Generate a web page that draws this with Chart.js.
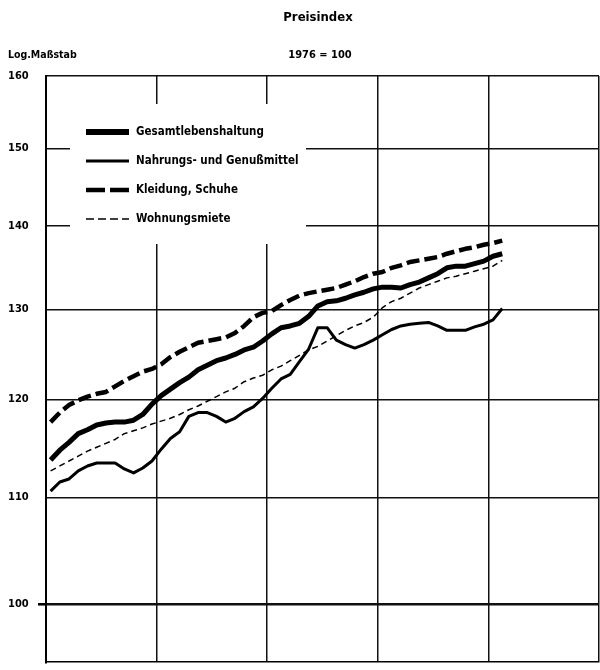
<!DOCTYPE html>
<html lang="de">
<head>
<meta charset="utf-8">
<title>Preisindex</title>
<script src="https://cdn.jsdelivr.net/npm/chart.js@4.4.1/dist/chart.umd.min.js"></script>
<style>
  html, body { margin: 0; padding: 0; background: #fff; }
  canvas { display: block; }
</style>
</head>
<body>
<canvas id="priceChart" width="600" height="670"></canvas>
<script>
// Monatswerte, 1976 = 100
const years = [1980, 1981, 1982, 1983, 1984];
const monthNames = ['Jan', 'Feb', 'Mär', 'Apr', 'Mai', 'Jun', 'Jul', 'Aug', 'Sep', 'Okt', 'Nov', 'Dez'];
const yTicks = [100, 110, 120, 130, 140, 150, 160];

const seriesNames = ['Gesamtlebenshaltung', 'Nahrungs- und Genußmittel', 'Kleidung, Schuhe', 'Wohnungsmiete'];

const gesamt = [113.7, 114.7, 115.5, 116.4, 116.8, 117.3, 117.5, 117.6, 117.6, 117.8, 118.4, 119.5,
    120.4, 121.1, 121.8, 122.4, 123.2, 123.7, 124.2, 124.5, 124.9, 125.4, 125.7, 126.4,
    127.2, 127.9, 128.1, 128.4, 129.2, 130.4, 130.9, 131.0, 131.3, 131.7, 132.0, 132.4,
    132.6, 132.6, 132.5, 132.9, 133.2, 133.7, 134.2, 134.9, 135.1, 135.1, 135.4, 135.7,
    136.3, 136.6];
const nahrung = [110.6, 111.5, 111.8, 112.6, 113.1, 113.4, 113.4, 113.4, 112.8, 112.4, 112.9, 113.6,
    114.8, 115.9, 116.6, 118.2, 118.6, 118.6, 118.2, 117.6, 118.0, 118.7, 119.2, 120.1,
    121.2, 122.2, 122.7, 124.1, 125.5, 127.9, 127.9, 126.5, 126.0, 125.6, 126.0, 126.5,
    127.1, 127.7, 128.1, 128.3, 128.4, 128.5, 128.1, 127.6, 127.6, 127.6, 128.0, 128.3,
    128.8, 130.1];
const kleidung = [117.6, 118.6, 119.4, 119.9, 120.3, 120.6, 120.8, 121.4, 122.0, 122.5, 123.0, 123.3,
    123.8, 124.6, 125.2, 125.7, 126.2, 126.4, 126.6, 126.8, 127.3, 128.1, 129.1, 129.6,
    129.8, 130.5, 131.1, 131.6, 131.9, 132.1, 132.3, 132.5, 132.9, 133.3, 133.8, 134.2,
    134.4, 134.9, 135.2, 135.6, 135.8, 136.0, 136.2, 136.6, 136.9, 137.2, 137.4, 137.7,
    137.9, 138.2];
const miete = [112.6, 113.1, 113.6, 114.1, 114.6, 115.0, 115.4, 115.8, 116.4, 116.7, 117.0, 117.4,
    117.7, 118.0, 118.4, 118.9, 119.3, 119.8, 120.3, 120.8, 121.2, 121.9, 122.3, 122.6,
    123.2, 123.6, 124.2, 124.8, 125.4, 125.8, 126.4, 127.0, 127.6, 128.1, 128.5, 129.1,
    130.2, 130.9, 131.3, 131.9, 132.5, 132.9, 133.3, 133.7, 133.9, 134.2, 134.5, 134.8,
    135.1, 135.8];

const months = years.flatMap(y => monthNames.map(m => m + ' ' + y));
const FONT = "'DejaVu Sans Condensed', 'Liberation Sans Narrow', sans-serif";

Chart.defaults.font.family = FONT;
Chart.defaults.color = '#000';

// Monatswert in der Monatsmitte
function toPoints(values) {
    return values.map((v, i) => ({ x: i + 0.5, y: v, month: months[i] }));
}

const legendBox = {
    id: 'legendBox',
    beforeDatasetsDraw(chart) {
        const ctx = chart.ctx;
        ctx.save();
        ctx.fillStyle = '#fff';
        ctx.fillRect(70, 104, 236, 140);
        ctx.font = 'bold 11.5px ' + FONT;
        ctx.textBaseline = 'middle';
        ctx.fillStyle = '#000';
        chart.data.datasets.forEach((ds, i) => {
            const y = 132 + i * 29;
            ctx.beginPath();
            ctx.setLineDash(ds.legendDash);
            ctx.lineWidth = ds.legendWidth;
            ctx.strokeStyle = '#000';
            ctx.moveTo(86, y);
            ctx.lineTo(129, y);
            ctx.stroke();
            ctx.fillText(ds.label, 136, y);
        });
        ctx.restore();
    },
    afterDraw(chart) {
        const ctx = chart.ctx;
        ctx.save();
        ctx.fillStyle = '#000';
        ctx.textBaseline = 'middle';
        ctx.textAlign = 'center';
        ctx.font = 'bold 13px ' + FONT;
        ctx.fillText('Preisindex', 318, 18);
        ctx.font = 'bold 11px ' + FONT;
        ctx.fillText('1976 = 100', 320, 55);
        ctx.textAlign = 'left';
        ctx.font = 'bold 10.5px ' + FONT;
        ctx.fillText('Log.Maßstab', 8, 55);
        ctx.restore();
    }
};

new Chart(document.getElementById('priceChart'), {
    type: 'line',
    data: {
        datasets: [{
            label: seriesNames[0],
            data: toPoints(gesamt),
            borderColor: '#000',
            borderWidth: 5,
            legendWidth: 6,
            legendDash: []
        }, {
            label: seriesNames[1],
            data: toPoints(nahrung),
            borderColor: '#000',
            borderWidth: 3,
            legendWidth: 3,
            legendDash: []
        }, {
            label: seriesNames[2],
            data: toPoints(kleidung),
            borderColor: '#000',
            borderWidth: 4.5,
            borderDash: [13, 5],
            legendWidth: 4.5,
            legendDash: [19, 5]
        }, {
            label: seriesNames[3],
            data: toPoints(miete),
            borderColor: '#000',
            borderWidth: 1.5,
            borderDash: [6, 4],
            legendWidth: 1.5,
            legendDash: [8, 4]
        }]
    },
    options: {
        responsive: false,
        animation: false,
        layout: { padding: { top: 76, left: 8, right: 1, bottom: 8 } },
        elements: {
            point: { radius: 0 },
            line: { tension: 0, borderCapStyle: 'butt', borderJoinStyle: 'round' }
        },
        plugins: {
            legend: { display: false },
            tooltip: { enabled: false }
        },
        scales: {
            x: {
                type: 'linear',
                min: 0,
                max: 60,
                ticks: { display: false, stepSize: 12 },
                grid: { color: '#111', lineWidth: 1.5, drawTicks: false },
                border: { display: true, color: '#000', width: 1.5 }
            },
            y: {
                type: 'logarithmic',
                min: 95,
                max: 160,
                afterBuildTicks: s => { s.ticks = yTicks.map(v => ({ value: v })); },
                afterFit: s => { s.width = 38; },
                border: { display: true, color: '#000', width: 2 },
                grid: {
                    color: '#111',
                    lineWidth: c => (c.tick && c.tick.value === 100 ? 2.6 : 1.4),
                    tickLength: 8,
                    tickWidth: 2.6,
                    tickColor: c => (c.tick && c.tick.value === 100 ? '#000' : 'rgba(0,0,0,0)')
                },
                ticks: {
                    crossAlign: 'far',
                    padding: 0,
                    color: '#000',
                    font: { size: 11, weight: 'bold' },
                    callback: v => String(v)
                }
            }
        }
    },
    plugins: [legendBox]
});
</script>
</body>
</html>
